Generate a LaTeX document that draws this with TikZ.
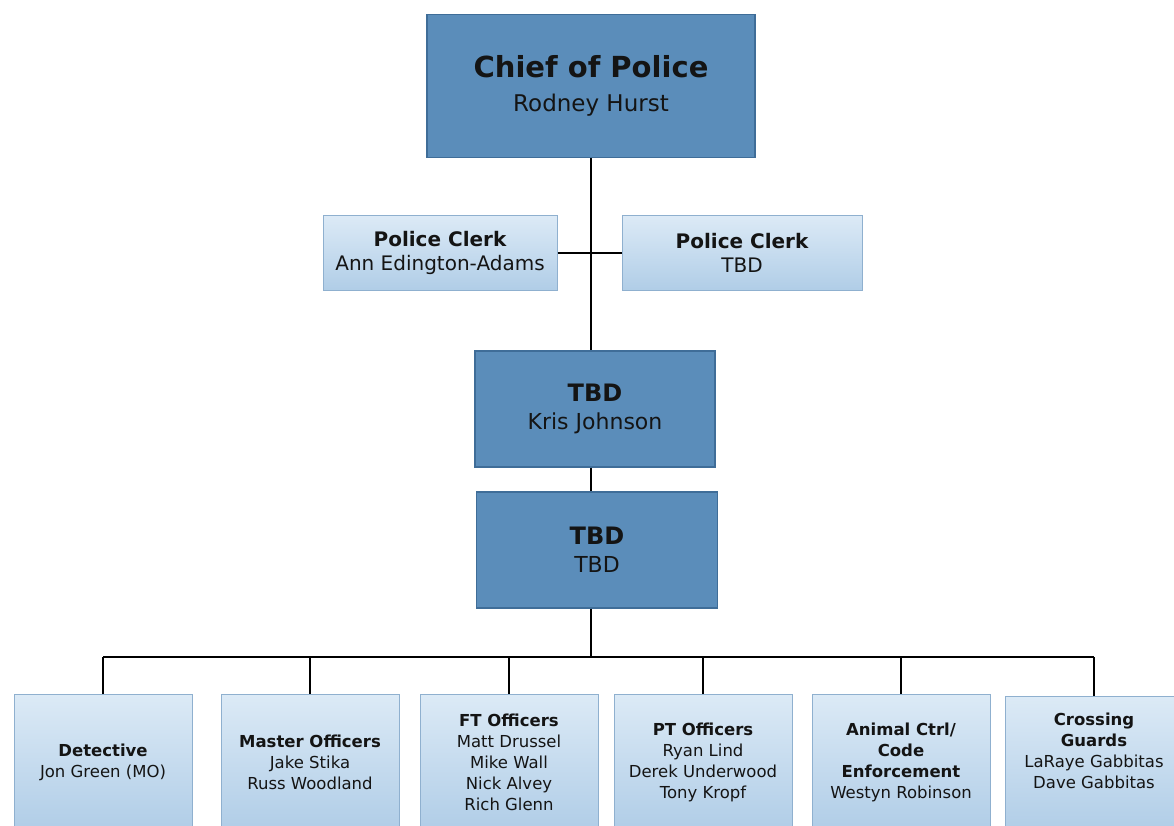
\documentclass[tikz,border=0pt]{standalone}
\usepackage{fontspec}
\setmainfont{DejaVu Sans}
\definecolor{darkfill}{HTML}{5B8DBA}
\definecolor{darkedge}{HTML}{3F6D98}
\definecolor{lighttop}{HTML}{DCEAF6}
\definecolor{lightbot}{HTML}{B0CDE7}
\definecolor{lightedge}{HTML}{8FB0CF}
\definecolor{textc}{HTML}{141414}
\begin{document}
\begin{tikzpicture}[x=1pt,y=-1pt,
  darkbox/.style={draw=darkedge, fill=darkfill, line width=1.2pt, align=center, text=textc, inner sep=2pt},
  lightbox/.style={draw=lightedge, top color=lighttop, bottom color=lightbot, line width=1pt, align=center, text=textc, inner sep=2pt},
  conn/.style={draw=black, line width=1.6pt},
  bottombox/.style={lightbox, minimum width=178pt, minimum height=136pt, font=\fontsize{16.5}{21}\selectfont}
]
\useasboundingbox (0,0) rectangle (1174,825);
\clip (0,0) rectangle (1174,825);
\fill[white] (0,0) rectangle (1174,825);

% top
\node[darkbox, minimum width=328pt, minimum height=143pt, font=\fontsize{23}{34}\selectfont] (chief) at (591,86)
  {{\fontsize{29}{34}\selectfont\bfseries Chief of Police}\\Rodney Hurst};

\node[lightbox, minimum width=234pt, minimum height=75pt, font=\fontsize{20}{24}\selectfont] (clerkL) at (440,253)
  {{\bfseries Police Clerk}\\Ann Edington-Adams};
\node[lightbox, minimum width=240pt, minimum height=75pt, font=\fontsize{20}{24}\selectfont] (clerkR) at (742,253)
  {{\bfseries Police Clerk}\\TBD};

\node[darkbox, minimum width=240pt, minimum height=116pt, font=\fontsize{22}{28}\selectfont] (tbdA) at (595,409)
  {{\fontsize{24}{28}\selectfont\bfseries TBD}\\Kris Johnson};
\node[darkbox, minimum width=241pt, minimum height=116pt, font=\fontsize{22}{28}\selectfont] (tbdB) at (597,550)
  {{\fontsize{24}{28}\selectfont\bfseries TBD}\\TBD};

% bottom row
\node[bottombox] (det) at (103,762) {{\bfseries Detective}\\Jon Green (MO)};
\node[bottombox] (master) at (310,762) {{\bfseries Master Officers}\\Jake Stika\\Russ Woodland};
\node[bottombox] (ft) at (509,762) {{\bfseries FT Officers}\\Matt Drussel\\Mike Wall\\Nick Alvey\\Rich Glenn};
\node[bottombox] (pt) at (703,762) {{\bfseries PT Officers}\\Ryan Lind\\Derek Underwood\\Tony Kropf};
\node[bottombox] (animal) at (901,762) {{\bfseries Animal Ctrl/}\\{\bfseries Code}\\{\bfseries Enforcement}\\Westyn Robinson};
\node[bottombox] (cross) at (1094,764) {{\bfseries Crossing}\\{\bfseries Guards}\\LaRaye Gabbitas\\Dave Gabbitas\\[6pt]};

% connectors
\coordinate (spine) at (591,155);
\coordinate (bus) at (591,657);
\draw[conn] (chief.south -| spine) -- (tbdA.north -| spine);
\draw[conn] (clerkL.east) -- (clerkR.west);
\draw[conn] (tbdA.south -| spine) -- (tbdB.north -| spine);
\draw[conn] (tbdB.south -| spine) -- (bus);
\draw[conn] (bus -| det.north) -- (bus -| cross.north);
\foreach \n in {det,master,ft,pt,animal,cross}
  \draw[conn] (bus -| \n.north) -- (\n.north);
\end{tikzpicture}
\end{document}
